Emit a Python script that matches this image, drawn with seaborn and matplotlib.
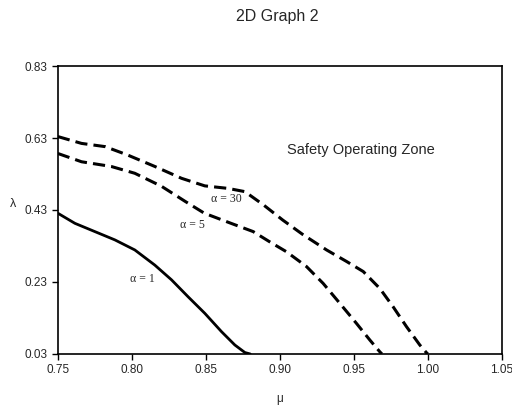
import matplotlib
matplotlib.use("Agg")
import matplotlib.pyplot as plt
import pandas as pd
import seaborn as sns

# curves (mu, lambda)
a1_mu = [0.75, 0.7615, 0.775, 0.7885, 0.802, 0.8155, 0.8268, 0.838, 0.8493,
         0.8606, 0.8696, 0.8764, 0.88]
a1_lam = [0.421, 0.393, 0.370, 0.347, 0.319, 0.277, 0.236, 0.189, 0.143,
          0.092, 0.055, 0.034, 0.03]

a5_mu = [0.75, 0.766, 0.786, 0.802, 0.82, 0.836, 0.849, 0.867, 0.882, 0.893,
         0.9045, 0.918, 0.9293, 0.9405, 0.9518, 0.9608, 0.9676, 0.969]
a5_lam = [0.587, 0.564, 0.551, 0.532, 0.496, 0.454, 0.421, 0.393, 0.37, 0.342,
          0.314, 0.273, 0.226, 0.171, 0.115, 0.069, 0.036, 0.03]

a30_mu = [0.75, 0.766, 0.782, 0.797, 0.8155, 0.8336, 0.8493, 0.865, 0.8764,
          0.889, 0.902, 0.9155, 0.9316, 0.9451, 0.9564, 0.9676, 0.9766, 0.9856,
          0.9946, 0.999, 1.0]
a30_lam = [0.634, 0.615, 0.606, 0.583, 0.551, 0.518, 0.497, 0.49, 0.481,
           0.444, 0.402, 0.362, 0.319, 0.287, 0.259, 0.212, 0.161, 0.106,
           0.055, 0.034, 0.03]

x_ticks = [0.75, 0.80, 0.85, 0.90, 0.95, 1.00, 1.05]
y_ticks = [0.03, 0.23, 0.43, 0.63, 0.83]

sns.set_style("white")
plt.rcParams['font.family'] = ['Liberation Sans', 'DejaVu Sans']

fig = plt.figure(figsize=(5.12, 4.05), dpi=100)
ax = fig.add_axes([0.113, 0.126, 0.867, 0.711])

curves = [
    (a1_mu, a1_lam, '-', 2.0),
    (a5_mu, a5_lam, (0, (4, 2)), 2.2),
    (a30_mu, a30_lam, (0, (4, 2)), 2.2),
]
for mu, lam, ls, lw in curves:
    df = pd.DataFrame({'mu': mu, 'lam': lam})
    sns.lineplot(data=df, x='mu', y='lam', ax=ax, color='black',
                 linestyle=ls, linewidth=lw, sort=False, estimator=None)

ax.set_xlim(0.75, 1.05)
ax.set_ylim(0.03, 0.83)
ax.set_xticks(x_ticks)
ax.set_xticklabels([f"{v:.2f}" for v in x_ticks])
ax.set_yticks(y_ticks)
ax.set_yticklabels([f"{v:.2f}" for v in y_ticks])
ax.tick_params(axis='both', direction='out', length=4, width=1, labelsize=8.5,
               color='black', bottom=True, left=True)
for s in ax.spines.values():
    s.set_color('black')
    s.set_linewidth(1.2)

ax.set_xlabel('μ', fontsize=8.5, labelpad=12)
ax.set_ylabel('λ', fontsize=9, rotation=0, labelpad=8)

ax.text(0.955, 0.597, 'Safety Operating Zone', ha='center', va='center', fontsize=10.5)
serif = ['Liberation Serif', 'DejaVu Serif']
ax.text(0.864, 0.46, 'α = 30', ha='center', va='center', fontsize=8.5, family=serif)
ax.text(0.841, 0.388, 'α = 5', ha='center', va='center', fontsize=8.5, family=serif)
ax.text(0.807, 0.238, 'α = 1', ha='center', va='center', fontsize=8.5, family=serif)

fig.text(0.541, 0.96, '2D Graph 2', ha='center', va='center', fontsize=11.5)

fig.savefig('out.png', dpi=100)
